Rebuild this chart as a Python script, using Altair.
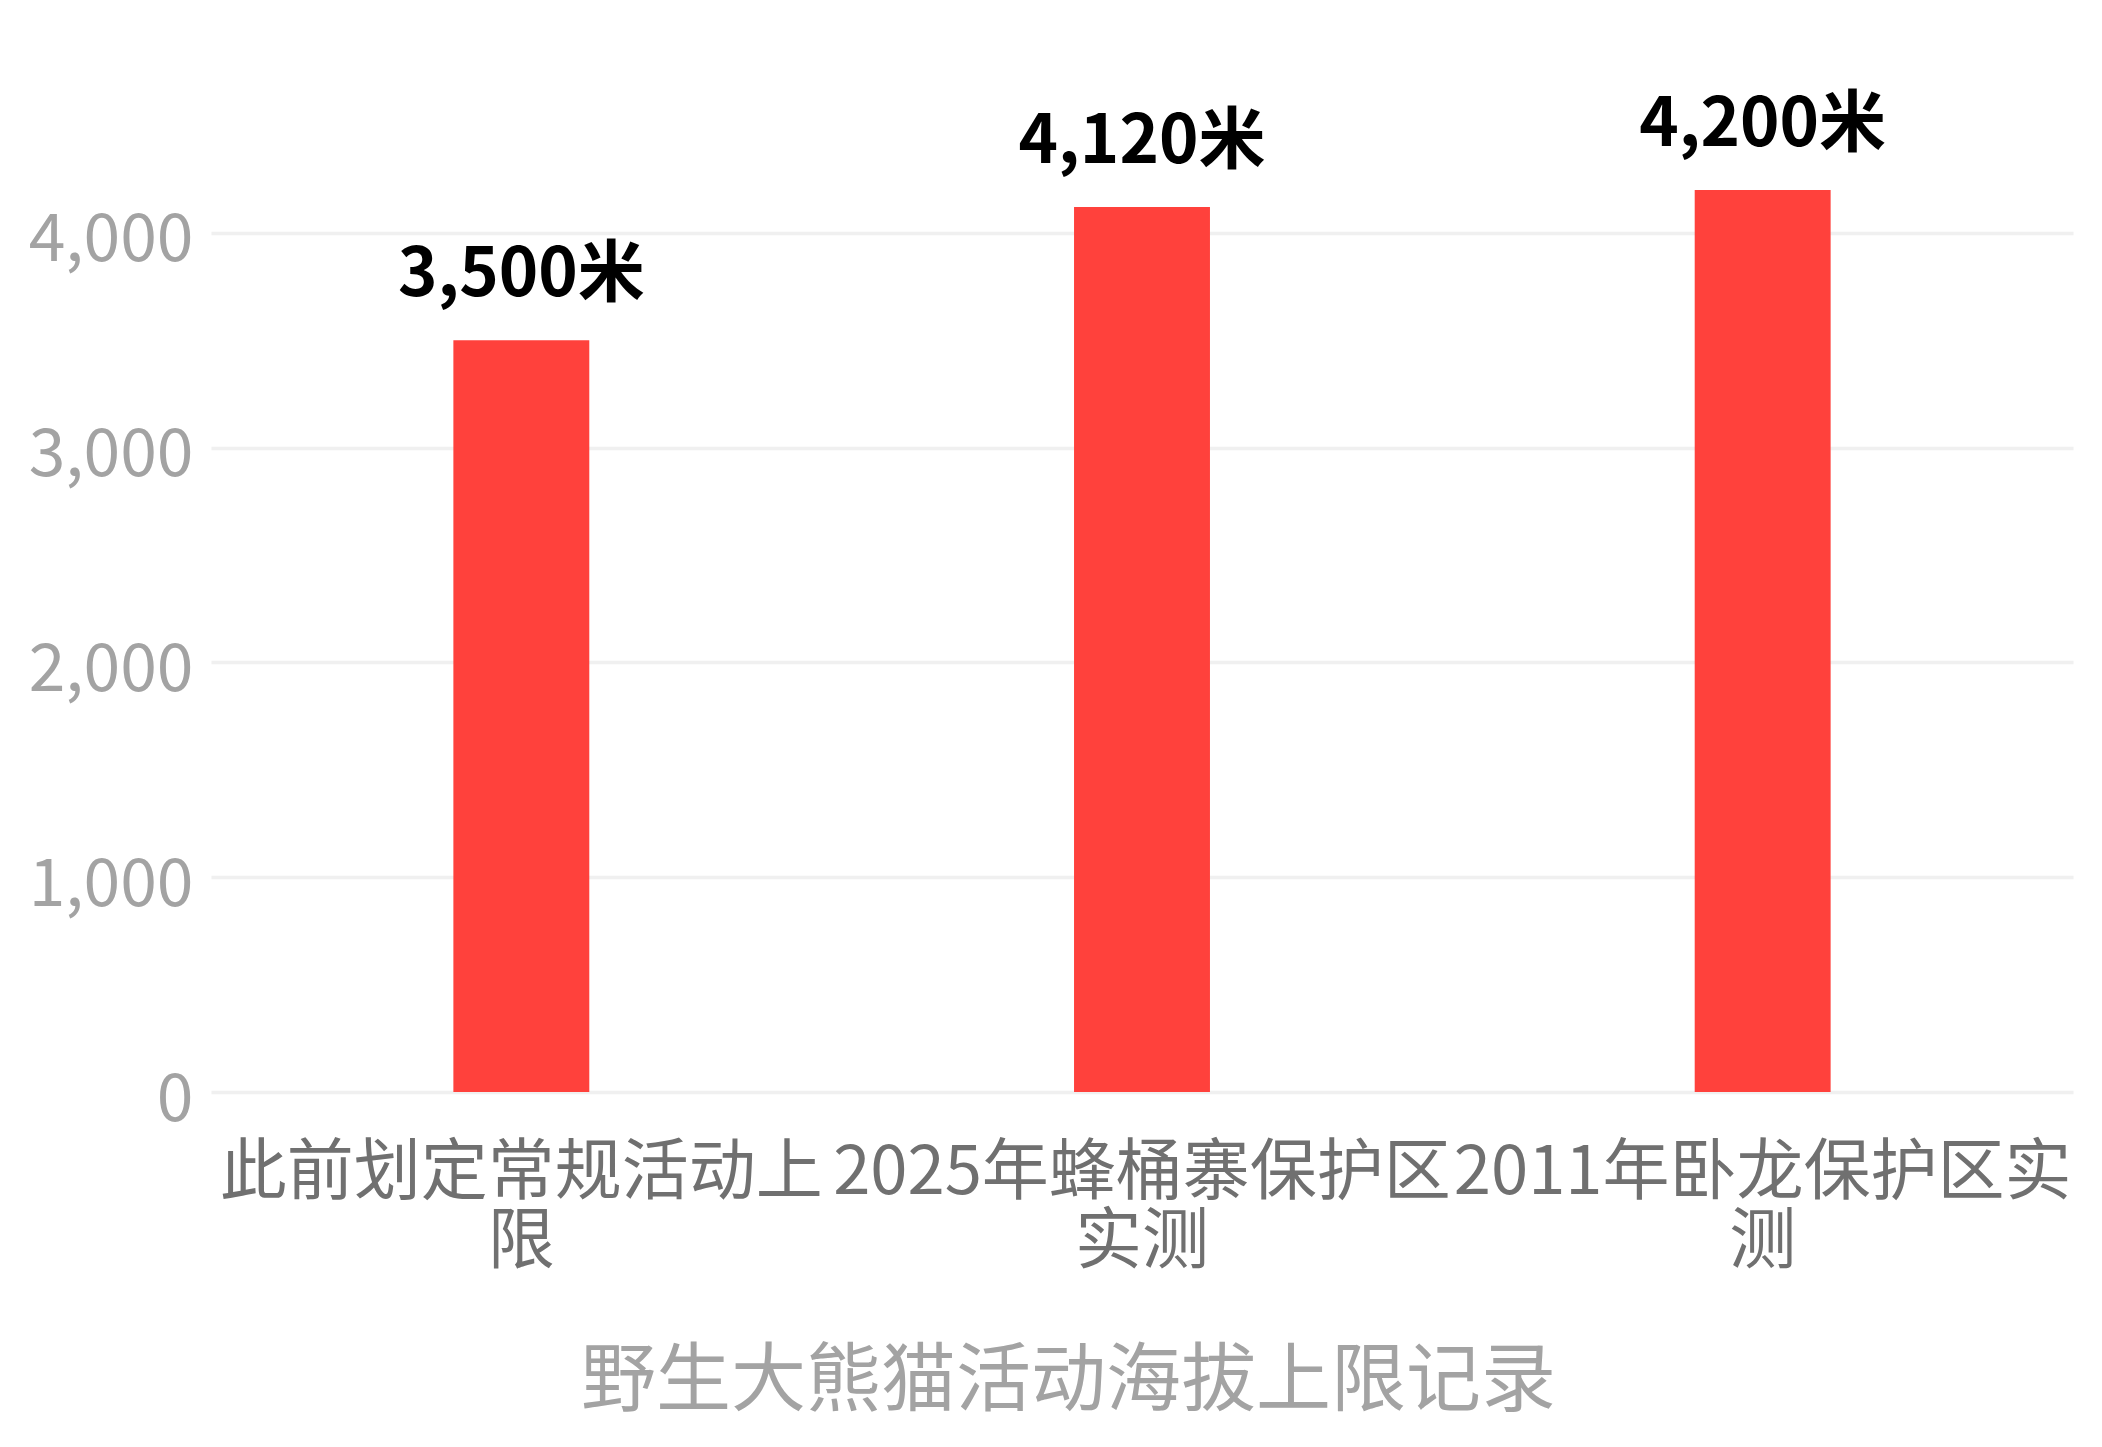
import altair as alt
import pandas as pd

# Data
label_lines = [
    ["此前划定常规活动上", "限"],
    ["2025年蜂桶寨保护区", "实测"],
    ["2011年卧龙保护区实", "测"],
]
values = [3500, 4120, 4200]
y_ticks = [0, 1000, 2000, 3000, 4000]
axis_title = "野生大熊猫活动海拔上限记录"
unit = "米"

FONT = "Noto Sans CJK SC"
cats = ["\n".join(l) for l in label_lines]
df = pd.DataFrame({"cat": cats, "value": values})

base = alt.Chart(df).transform_calculate(
    label="format(datum.value, ',') + '" + unit + "'"
).encode(
    x=alt.X(
        "cat:N",
        sort=cats,
        scale=alt.Scale(paddingInner=0, paddingOuter=0),
        axis=alt.Axis(
            title=axis_title,
            labelAngle=0,
            labelExpr="split(datum.label, '\\n')",
            labelFont=FONT,
            labelFontSize=67,
            labelColor="#707070",
            labelLineHeight=69,
            labelPadding=48,
            labelBaseline="top",
            labelLimit=0,
            labelOverlap=False,
            domain=False,
            ticks=False,
            grid=False,
            titleFont=FONT,
            titleFontSize=75,
            titleFontWeight="normal",
            titleColor="#a3a3a3",
            titleX=857,
            titleY=312,
            titleBaseline="alphabetic",
            titleAlign="center",
        ),
    ),
    y=alt.Y(
        "value:Q",
        scale=alt.Scale(domain=[0, 4800], nice=False),
        axis=alt.Axis(
            values=y_ticks,
            format=",d",
            title=None,
            labelFont=FONT,
            labelFontSize=66,
            labelColor="#a3a3a3",
            labelPadding=18,
            labelOffset=8,
            domain=False,
            ticks=False,
            gridColor="#f0f0f0",
            gridWidth=3.5,
        ),
    ),
)

bars = base.mark_bar(color="#ff413c", width=alt.RelativeBandSize(0.219))
text = base.mark_text(
    font=FONT,
    fontSize=67,
    fontWeight="bold",
    color="#000000",
    baseline="alphabetic",
    dy=-44,
).encode(text="label:N")

chart = (
    (bars + text)
    .properties(
        width=1862,
        height=1031,
        padding={"left": 203, "top": 53, "right": 15, "bottom": 344},
        autosize=alt.AutoSizeParams(type="none"),
        background="white",
    )
    .configure_view(stroke=None)
)

chart.save("out.html", embed_options={"renderer": "svg", "actions": False})
